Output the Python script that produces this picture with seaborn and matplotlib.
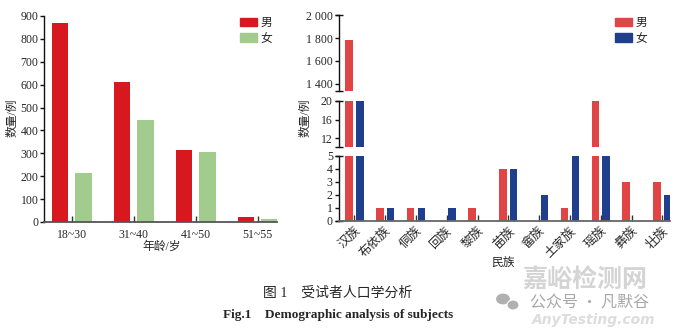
import matplotlib
matplotlib.use("Agg")
import matplotlib.pyplot as plt
from matplotlib.patches import Patch, Ellipse
import seaborn as sns
import pandas as pd

# ---- data ----
age_groups = ["18~30", "31~40", "41~50", "51~55"]
age_male = [870, 610, 315, 20]
age_female = [215, 445, 305, 12]

ethnic_groups = ["汉族", "布依族", "侗族", "回族", "黎族", "苗族",
                 "畲族", "土家族", "瑶族", "彝族", "壮族"]
ethnic_male = [1780, 1, 1, 0, 1, 4, 0, 1, 20, 3, 3]
ethnic_female = [956, 1, 1, 1, 0, 4, 2, 5, 5, 0, 2]

sex_labels = ["男", "女"]

# ---- style ----
sns.set_theme(style="white")
plt.rcParams["font.family"] = ["Liberation Serif", "Noto Sans CJK SC"]
plt.rcParams["axes.unicode_minus"] = False

W, H = 680, 328
fig = plt.figure(figsize=(W / 100, H / 100), dpi=100)


def place(left, top, right, bottom):
    return fig.add_axes([left / W, 1 - bottom / H, (right - left) / W, (bottom - top) / H])


def fig_xy(x, y):
    return x / W, 1 - y / H


TICK_FS = 8.5
CJK_FS = 8.5

# ---- left panel: age distribution ----
age_df = pd.DataFrame({
    "年龄": age_groups * 2,
    "性别": [sex_labels[0]] * len(age_groups) + [sex_labels[1]] * len(age_groups),
    "数量": age_male + age_female,
})
age_colors = ["#d7191f", "#a2cb8e"]

ax_age = place(44, 16, 277, 222)
sns.barplot(data=age_df, x="年龄", y="数量", hue="性别", hue_order=sex_labels,
            palette=age_colors, saturation=1, width=0.76, gap=0.29, linewidth=0,
            errorbar=None, legend=False, ax=ax_age)
ax_age.set_xlim(-0.45, 3.31)
ax_age.set_ylim(0, 900)
ax_age.set_yticks(range(0, 901, 100))
ax_age.set_xlabel("")
ax_age.set_ylabel("")
for s in ("top", "right"):
    ax_age.spines[s].set_visible(False)
ax_age.spines["left"].set_color("#111111")
ax_age.spines["left"].set_linewidth(1.0)
ax_age.spines["bottom"].set_color("#555555")
ax_age.spines["bottom"].set_linewidth(1.3)
ax_age.tick_params(axis="y", direction="out", length=3, width=1, color="#111111",
                   labelsize=TICK_FS, pad=1, left=True)
ax_age.tick_params(axis="x", direction="in", length=4, width=1, color="#333333",
                   labelsize=TICK_FS, pad=5, bottom=True)

ax_age.legend(handles=[Patch(color=c, label=l) for c, l in zip(age_colors, sex_labels)],
              loc="upper left", bbox_to_anchor=fig_xy(240, 17), bbox_transform=fig.transFigure,
              frameon=False, fontsize=CJK_FS, handlelength=1.4, handleheight=0.75,
              handletextpad=0.35, labelspacing=0.3, borderpad=0, borderaxespad=0)

fig.text(*fig_xy(12, 118), "数量/例", rotation=90, ha="center", va="center", fontsize=CJK_FS)
fig.text(*fig_xy(162, 247), "年龄/岁", ha="center", va="center", fontsize=CJK_FS)

# ---- right panel: ethnic distribution with broken y axis ----
eth_df = pd.DataFrame({
    "民族": ethnic_groups * 2,
    "性别": [sex_labels[0]] * len(ethnic_groups) + [sex_labels[1]] * len(ethnic_groups),
    "数量": ethnic_male + ethnic_female,
})
eth_colors = ["#e04444", "#1f3f8c"]

X0, X1 = 339, 670
ax_top = place(X0, 15.3, X1, 90.7)
ax_mid = place(X0, 101, X1, 147.3)
ax_bot = place(X0, 155.7, X1, 220.7)

segments = [
    (ax_top, (1340, 2000), [1400, 1600, 1800, 2000], ["1 400", "1 600", "1 800", "2 000"]),
    (ax_mid, (10, 20), [12, 16, 20], ["12", "16", "20"]),
    (ax_bot, (0, 5), [0, 1, 2, 3, 4, 5], ["0", "1", "2", "3", "4", "5"]),
]

for ax, ylim, ticks, labels in segments:
    sns.barplot(data=eth_df, x="民族", y="数量", hue="性别", hue_order=sex_labels,
                palette=eth_colors, saturation=1, width=0.7, gap=0.31, linewidth=0,
                errorbar=None, legend=False, ax=ax)
    ax.set_xlim(-0.5, 10.25)
    ax.set_ylim(*ylim)
    ax.set_yticks(ticks)
    ax.set_yticklabels(labels)
    ax.set_xlabel("")
    ax.set_ylabel("")
    for s in ("top", "right", "bottom"):
        ax.spines[s].set_visible(False)
    ax.spines["left"].set_color("#111111")
    ax.spines["left"].set_linewidth(1.0)
    ax.tick_params(axis="y", direction="out", length=3, width=1, color="#111111",
                   labelsize=TICK_FS, pad=1.5, left=True)
    ax.patch.set_alpha(0)
    # break caps at each end of the segment spine
    for yy in (0, 1):
        ax.plot([-0.012, 0.012], [yy, yy], transform=ax.transAxes, color="#111111",
                lw=1.0, clip_on=False, solid_capstyle="butt")

for ax in (ax_top, ax_mid):
    ax.tick_params(axis="x", bottom=False, labelbottom=False)

ax_bot.spines["bottom"].set_visible(True)
ax_bot.spines["bottom"].set_color("#666666")
ax_bot.spines["bottom"].set_linewidth(1.3)
ax_bot.tick_params(axis="x", direction="in", length=4, width=1, color="#333333",
                   labelsize=CJK_FS + 0.5, pad=3, bottom=True)
for lab in ax_bot.get_xticklabels():
    lab.set_rotation(45)
    lab.set_ha("right")
    lab.set_va("top")
    lab.set_rotation_mode("anchor")

ax_top.legend(handles=[Patch(color=c, label=l) for c, l in zip(eth_colors, sex_labels)],
              loc="upper left", bbox_to_anchor=fig_xy(615, 17), bbox_transform=fig.transFigure,
              frameon=False, fontsize=CJK_FS, handlelength=1.4, handleheight=0.75,
              handletextpad=0.35, labelspacing=0.3, borderpad=0, borderaxespad=0)

fig.text(*fig_xy(305, 118), "数量/例", rotation=90, ha="center", va="center", fontsize=CJK_FS)
fig.text(*fig_xy(503, 264), "民族", ha="center", va="center", fontsize=CJK_FS)

# ---- caption ----
fig.text(*fig_xy(338, 293), "图 1　受试者人口学分析", ha="center", va="center", fontsize=10)
fig.text(*fig_xy(338, 315), "Fig.1    Demographic analysis of subjects", ha="center", va="center",
         fontsize=9.5, fontweight="bold", family="Liberation Serif")

# ---- watermark ----
fig.text(*fig_xy(585, 280), "嘉峪检测网", ha="center", va="center", fontsize=18,
         color="#d4d4d4", family="Noto Sans CJK SC", fontweight="bold")
fig.text(*fig_xy(594, 320), "AnyTesting.com", ha="center", va="center", fontsize=10,
         color="#dddddd", style="italic", family="DejaVu Sans", fontweight="bold")
fig.text(*fig_xy(590, 303), "公众号 · 凡默谷", ha="center", va="center", fontsize=11.5,
         color="#a8a8a8", family="Noto Sans CJK SC")
for cx, cy, w, h in ((503, 299, 15, 12), (513, 305, 12, 10)):
    fig.patches.append(Ellipse(fig_xy(cx, cy), w / W, h / H, transform=fig.transFigure,
                               facecolor="#b0b0b0", edgecolor="white", lw=0.8))

fig.savefig("out.png", dpi=100)
